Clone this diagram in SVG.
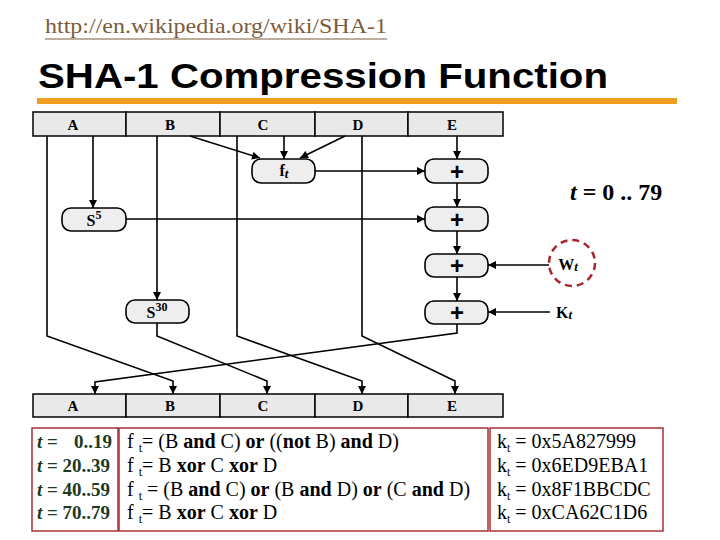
<svg xmlns="http://www.w3.org/2000/svg" width="720" height="540" viewBox="0 0 720 540">
<style>
.reg{fill:#e9e9e9;stroke:#000;stroke-width:1.5}
.rl{font-family:"Liberation Serif",serif;font-weight:bold;font-size:15px;text-anchor:middle;fill:#000}
.box{fill:#eeeeee;stroke:#000;stroke-width:1.6}
.bt{font-family:"Liberation Serif",serif;font-weight:bold;font-size:16px;text-anchor:middle;fill:#000}
.plus{font-family:"Liberation Sans",sans-serif;font-weight:bold;font-size:24px;text-anchor:middle;fill:#000}
.ln{fill:none;stroke:#000;stroke-width:1.6}
.tb{fill:#fff;stroke:#a8303a;stroke-width:1.5}
.lt{font-family:"Liberation Serif",serif;font-weight:bold;font-size:19px;fill:#1e3a1e}
.mt{font-family:"Liberation Serif",serif;font-size:20px;fill:#000}
</style>
<defs>
<marker id="ah" viewBox="0 0 10 10" refX="10" refY="5" markerWidth="9" markerHeight="8" markerUnits="userSpaceOnUse" orient="auto">
<path d="M0,0 L10,5 L0,10 z" fill="#000"/>
</marker>
</defs>
<rect width="720" height="540" fill="#fff"/>

<g id="header">
<text x="45" y="33" font-family="Liberation Serif,serif" font-size="22" textLength="342" lengthAdjust="spacingAndGlyphs" fill="#7b5c3c">http://en.wikipedia.org/wiki/SHA-1</text>
<line x1="45" y1="39" x2="387" y2="39" stroke="#7b5c3c" stroke-width="1.2"/>
<text x="38" y="88" font-family="Liberation Sans,sans-serif" font-weight="bold" font-size="35" textLength="570" lengthAdjust="spacingAndGlyphs" fill="#000">SHA-1 Compression Function</text>
<rect x="37" y="98" width="640" height="6" fill="#f0a020"/>
</g>

<g id="top-register">
<rect class="reg" x="33" y="112" width="93" height="24"/>
<rect class="reg" x="126" y="112" width="94" height="24"/>
<rect class="reg" x="220" y="112" width="95" height="24"/>
<rect class="reg" x="315" y="112" width="93" height="24"/>
<rect class="reg" x="408" y="112" width="95" height="24"/>
<text class="rl" x="73" y="130">A</text>
<text class="rl" x="170" y="130">B</text>
<text class="rl" x="263" y="130">C</text>
<text class="rl" x="358" y="130">D</text>
<text class="rl" x="452" y="130">E</text>
</g>

<g id="bottom-register">
<rect class="reg" x="33" y="394" width="93" height="23"/>
<rect class="reg" x="126" y="394" width="94" height="23"/>
<rect class="reg" x="220" y="394" width="95" height="23"/>
<rect class="reg" x="315" y="394" width="93" height="23"/>
<rect class="reg" x="408" y="394" width="95" height="23"/>
<text class="rl" x="73" y="411">A</text>
<text class="rl" x="170" y="411">B</text>
<text class="rl" x="263" y="411">C</text>
<text class="rl" x="358" y="411">D</text>
<text class="rl" x="452" y="411">E</text>
</g>

<g id="connectors">
<path class="ln" d="M47,136 V336 L173,381 V394" marker-end="url(#ah)"/>
<path class="ln" d="M93,136 V208" marker-end="url(#ah)"/>
<path class="ln" d="M157,136 V300" marker-end="url(#ah)"/>
<path class="ln" d="M157,323 V336 L267,381 V394" marker-end="url(#ah)"/>
<path class="ln" d="M237,136 V336 L362,381 V394" stroke-width="1.1" marker-end="url(#ah)"/>
<path class="ln" d="M362,136 V336 L455,381 V394" marker-end="url(#ah)"/>
<path class="ln" d="M457,324 V333 L95,382 V394" marker-end="url(#ah)"/>
<path class="ln" d="M190,136 L260,158" marker-end="url(#ah)"/>
<path class="ln" d="M284,136 V159" marker-end="url(#ah)"/>
<path class="ln" d="M345,136 L300,158" marker-end="url(#ah)"/>
<path class="ln" d="M457,136 V159" marker-end="url(#ah)"/>
<path class="ln" d="M315,171 H425" marker-end="url(#ah)"/>
<path class="ln" d="M126,219 H425" marker-end="url(#ah)"/>
<path class="ln" d="M457,183 V207" marker-end="url(#ah)"/>
<path class="ln" d="M457,231 V254" marker-end="url(#ah)"/>
<path class="ln" d="M457,277 V301" marker-end="url(#ah)"/>
<path class="ln" d="M549,265 H488" stroke-width="1.3" marker-end="url(#ah)"/>
<path class="ln" d="M550,312 H488" stroke-width="1.3" marker-end="url(#ah)"/>
</g>

<g id="ft">
<rect class="box" x="252" y="159" width="63" height="24" rx="9"/>
<text class="bt" x="284" y="176">f<tspan font-style="italic" font-size="13" dy="2">t</tspan></text>
</g>
<g id="add1">
<rect class="box" x="425" y="159" width="63" height="24" rx="9"/>
<text class="plus" x="457" y="180">+</text>
</g>
<g id="s5">
<rect class="box" x="62" y="208" width="64" height="23" rx="9"/>
<text class="bt" x="94" y="226">S<tspan font-size="12" dy="-7">5</tspan></text>
</g>
<g id="add2">
<rect class="box" x="425" y="207" width="63" height="24" rx="9"/>
<text class="plus" x="457" y="228">+</text>
</g>
<g id="add3">
<rect class="box" x="425" y="254" width="63" height="23" rx="9"/>
<text class="plus" x="457" y="274">+</text>
</g>
<g id="s30">
<rect class="box" x="126" y="300" width="63" height="23" rx="9"/>
<text class="bt" x="157" y="318">S<tspan font-size="12" dy="-7">30</tspan></text>
</g>
<g id="add4">
<rect class="box" x="425" y="301" width="63" height="23" rx="9"/>
<text class="plus" x="457" y="321">+</text>
</g>
<g id="wt">
<circle cx="572" cy="263" r="23" fill="none" stroke="#a8242e" stroke-width="2.5" stroke-dasharray="7,5"/>
<text x="568" y="270" class="bt">W<tspan font-style="italic" font-size="13" dy="1">t</tspan></text>
</g>
<g id="kt">
<text x="556" y="318" font-family="Liberation Serif,serif" font-weight="bold" font-size="16">K<tspan font-style="italic" font-size="13" dy="1">t</tspan></text>
</g>
<g id="range">
<text x="570" y="200" font-family="Liberation Serif,serif" font-weight="bold" font-size="24"><tspan font-style="italic">t</tspan> = 0 .. 79</text>
</g>

<g id="table">
<rect class="tb" x="32" y="428" width="86" height="103"/>
<rect class="tb" x="119" y="428" width="369" height="103"/>
<rect class="tb" x="490" y="428" width="173" height="103"/>
<text class="lt" x="37" y="448"><tspan font-style="italic">t</tspan> =</text>
<text class="lt" x="112" y="448" text-anchor="end">0..19</text>
<text class="lt" x="37" y="472"><tspan font-style="italic">t</tspan> = 20..39</text>
<text class="lt" x="37" y="496"><tspan font-style="italic">t</tspan> = 40..59</text>
<text class="lt" x="37" y="519"><tspan font-style="italic">t</tspan> = 70..79</text>
<text class="mt" x="127" y="448">f <tspan font-size="12" dy="4">t</tspan><tspan dy="-4">= (B </tspan><tspan font-weight="bold">and</tspan> C) <tspan font-weight="bold">or</tspan> ((<tspan font-weight="bold">not</tspan> B) <tspan font-weight="bold">and</tspan> D)</text>
<text class="mt" x="127" y="472">f <tspan font-size="12" dy="4">t</tspan><tspan dy="-4">= B </tspan><tspan font-weight="bold">xor</tspan> C <tspan font-weight="bold">xor</tspan> D</text>
<text class="mt" x="127" y="496">f <tspan font-size="12" dy="4">t</tspan><tspan dy="-4"> = (B </tspan><tspan font-weight="bold">and</tspan> C) <tspan font-weight="bold">or</tspan> (B <tspan font-weight="bold">and</tspan> D) <tspan font-weight="bold">or</tspan> (C <tspan font-weight="bold">and</tspan> D)</text>
<text class="mt" x="127" y="519">f <tspan font-size="12" dy="4">t</tspan><tspan dy="-4">= B </tspan><tspan font-weight="bold">xor</tspan> C <tspan font-weight="bold">xor</tspan> D</text>
<text class="mt" x="497" y="448">k<tspan font-size="12" dy="4">t</tspan><tspan dy="-4"> = 0x5A827999</tspan></text>
<text class="mt" x="497" y="472">k<tspan font-size="12" dy="4">t</tspan><tspan dy="-4"> = 0x6ED9EBA1</tspan></text>
<text class="mt" x="497" y="496">k<tspan font-size="12" dy="4">t</tspan><tspan dy="-4"> = 0x8F1BBCDC</tspan></text>
<text class="mt" x="497" y="519">k<tspan font-size="12" dy="4">t</tspan><tspan dy="-4"> = 0xCA62C1D6</tspan></text>
</g>
</svg>
